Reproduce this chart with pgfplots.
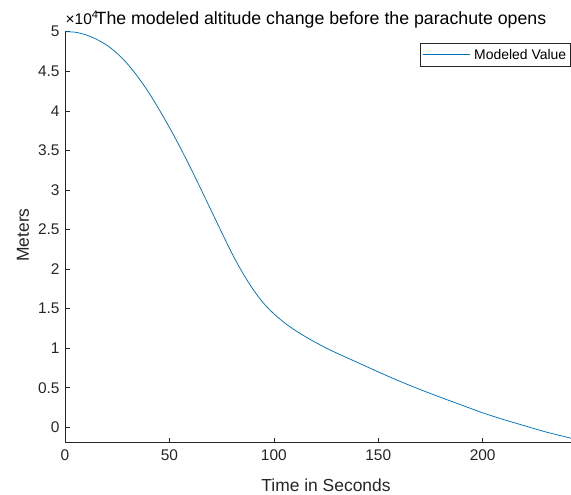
\documentclass[border=0pt]{standalone}
\usepackage{fontspec}
\setmainfont{Liberation Sans}
\usepackage{pgfplots}
\pgfplotsset{compat=1.18}
\definecolor{mblue}{RGB}{0,114,189}
\definecolor{mgray}{RGB}{38,38,38}
\begin{document}
\begin{tikzpicture}[x=1bp,y=1bp]
\path[use as bounding box] (0,0) rectangle (571,495);
\begin{axis}[
  at={(65bp,52.3bp)}, anchor=south west,
  scale only axis, width=506bp, height=411bp,
  xmin=0, xmax=242.3, ymin=-1947, ymax=50000,
  axis lines*=left,
  axis line style={mgray, line width=0.6bp, -},
  tick align=inside, major tick length=5bp,
  tick style={mgray, line width=0.6bp},
  xtick={0,50,...,200}, ytick={0,5000,...,50000},
  yticklabels={0,0.5,1,1.5,2,2.5,3,3.5,4,4.5,5},
  scaled y ticks=false, scaled x ticks=false,
  /pgf/number format/assume math mode=true,
  ticklabel style={font=\fontsize{15.5}{18}\selectfont, text=mgray},
  xticklabel style={yshift=-3bp},
  yticklabel style={xshift=-2bp},
  legend style={at={(0.999,0.972)}, anchor=north east, draw=mgray,
    line width=0.5bp, font=\fontsize{14}{16}\selectfont, text=black,
    inner xsep=2bp, inner ysep=3.5bp},
  legend cell align=left,
  legend image code/.code={\draw[mblue, line width=0.75bp] (2bp,0bp) -- (49bp,0bp); \path (51bp,0bp);},
]
\addplot[mblue, line width=0.75bp, smooth] coordinates {
(0,50000) (5,49930) (10,49600) (15,49050) (20,48300) (25,47250)
(30,45900) (35,44250) (40,42350) (45,40200) (50,37900) (55,35450)
(60,32850) (65,30150) (70,27400) (75,24650) (80,21950) (85,19550)
(90,17450) (95,15700) (100,14350) (105,13230) (110,12290) (115,11470)
(120,10720) (125,10030) (130,9390) (140,8200) (150,7000) (160,5850)
(170,4780) (180,3770) (190,2800) (200,1830) (210,980) (220,200)
(230,-570) (240,-1230) (242.3,-1390)
};
\addlegendentry{Modeled Value}
\end{axis}
\node[anchor=base west, inner sep=0, text=black, font=\fontsize{15.5}{18}\selectfont] at (65.5,470) {×10\raisebox{0.42em}{\fontsize{11}{12}\selectfont 4}};
\node[anchor=base west, inner sep=0, text=black, font=\fontsize{17.8}{20}\selectfont] at (95.5,470) {The modeled altitude change before the parachute opens};
\node[anchor=center, inner sep=0, text=mgray, font=\fontsize{17.5}{20}\selectfont] at (326,10) {Time in Seconds};
\node[anchor=center, inner sep=0, rotate=90, text=mgray, font=\fontsize{17.5}{20}\selectfont] at (23,260) {Meters};
\end{tikzpicture}
\end{document}
